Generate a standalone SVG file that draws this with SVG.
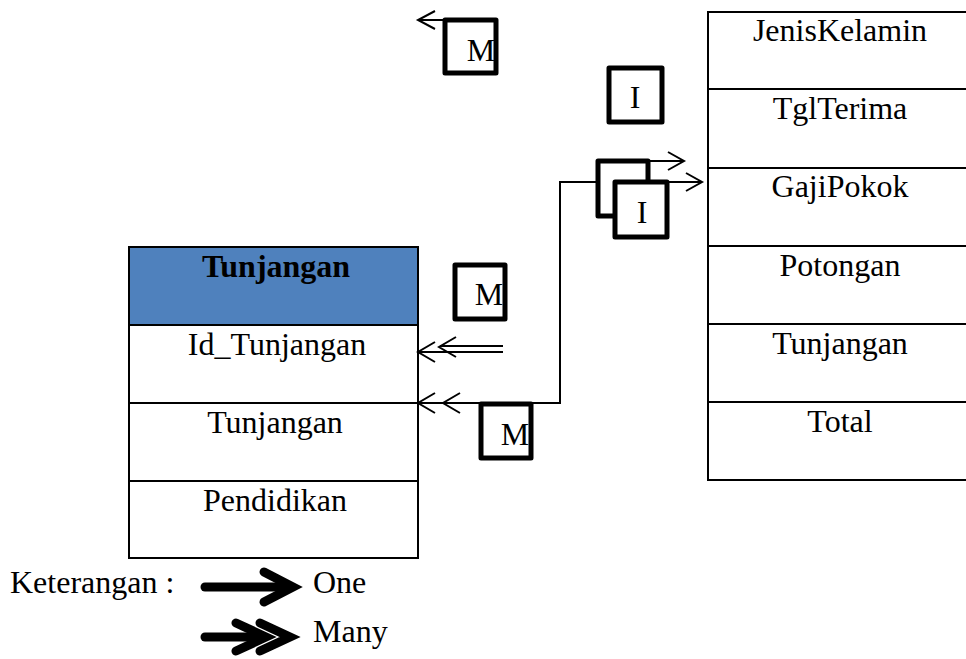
<svg xmlns="http://www.w3.org/2000/svg" width="966" height="659" viewBox="0 0 966 659">
  <style>
    .cell { fill: #ffffff; stroke: #000000; stroke-width: 2; }
    .head { fill: #4f81bd; stroke: #000000; stroke-width: 2; }
    .txt { font-family: "Liberation Serif", "Times New Roman", serif; font-size: 32px; fill: #000000; text-anchor: middle; }
    .bold { font-weight: bold; }
    .tag { fill: #ffffff; stroke: #000000; stroke-width: 5; stroke-linejoin: round; }
    .line { fill: none; stroke: #000000; stroke-width: 2; }
    .legend { fill: none; stroke: #000000; stroke-width: 9; stroke-linejoin: miter; stroke-linecap: round; }
  </style>

  <!-- Tunjangan table -->
  <g id="tabel-tunjangan">
    <rect class="head" x="129" y="247" width="289" height="78"/>
    <rect class="cell" x="129" y="325" width="289" height="78"/>
    <rect class="cell" x="129" y="403" width="289" height="78"/>
    <rect class="cell" x="129" y="481" width="289" height="77"/>
    <text class="txt bold" x="276" y="277">Tunjangan</text>
    <text class="txt" x="277" y="355">Id_Tunjangan</text>
    <text class="txt" x="275" y="433">Tunjangan</text>
    <text class="txt" x="275" y="511">Pendidikan</text>
  </g>

  <!-- Gaji table (right, runs past the edge) -->
  <g id="tabel-gaji">
    <rect class="cell" x="708" y="12" width="270" height="77"/>
    <rect class="cell" x="708" y="89" width="270" height="79"/>
    <rect class="cell" x="708" y="168" width="270" height="78"/>
    <rect class="cell" x="708" y="246" width="270" height="78"/>
    <rect class="cell" x="708" y="324" width="270" height="78"/>
    <rect class="cell" x="708" y="402" width="270" height="78"/>
    <text class="txt" x="840" y="41">JenisKelamin</text>
    <text class="txt" x="840" y="119">TglTerima</text>
    <text class="txt" x="840" y="197">GajiPokok</text>
    <text class="txt" x="840" y="276">Potongan</text>
    <text class="txt" x="840" y="354">Tunjangan</text>
    <text class="txt" x="840" y="432">Total</text>
  </g>

  <!-- Relationship lines -->
  <g id="connectors">
    <!-- top arrow -->
    <path class="line" d="M444,20 L418,20"/>
    <path class="line" d="M435,11 L418,20 L435,29"/>
    <!-- upper arrow toward the Gaji table -->
    <path class="line" d="M596,161 L684,161"/>
    <path class="line" d="M668,152 L684,161 L668,170"/>
    <!-- lower route: Tunjangan -> GajiPokok -->
    <path class="line" d="M418,403 L560,403 L560,182 L702,182"/>
    <path class="line" d="M686,173 L702,182 L686,191"/>
    <path class="line" d="M435,393 L418,403 L435,413"/>
    <path class="line" d="M460,393 L443,403 L460,413"/>
    <!-- double line into Id_Tunjangan -->
    <path class="line" d="M418,352 L503,352"/>
    <path class="line" d="M440,346 L503,346"/>
    <path class="line" d="M435,342 L418,352 L435,362"/>
    <path class="line" d="M456,337 L439,347 L456,357"/>
  </g>

  <!-- cardinality tags -->
  <g id="tag-m-atas">
    <rect class="tag" x="445" y="20" width="51" height="53"/>
    <text class="txt" x="481" y="61">M</text>
  </g>
  <g id="tag-i-atas">
    <rect class="tag" x="609" y="68" width="53" height="54"/>
    <text class="txt" x="635" y="108">I</text>
  </g>
  <g id="tag-i-belakang">
    <rect class="tag" x="598" y="161" width="50" height="55"/>
  </g>
  <g id="tag-i-depan">
    <rect class="tag" x="615" y="182" width="52" height="55"/>
    <text class="txt" x="642" y="223">I</text>
  </g>
  <g id="tag-m-tengah">
    <rect class="tag" x="455" y="265" width="50" height="54"/>
    <text class="txt" x="489" y="305">M</text>
  </g>
  <g id="tag-m-bawah">
    <rect class="tag" x="481" y="404" width="50" height="54"/>
    <text class="txt" x="515" y="445">M</text>
  </g>

  <!-- legend -->
  <g id="legend">
    <text class="txt" x="10" y="593" style="text-anchor:start">Keterangan :</text>
    <path class="legend" d="M205,587 L285,587"/>
    <path class="legend" d="M264,572 L293,587 L264,602"/>
    <text class="txt" x="313" y="593" style="text-anchor:start">One</text>
    <path class="legend" d="M205,637 L255,637"/>
    <path class="legend" d="M236,623 L266,637 L236,651"/>
    <path class="legend" d="M260,623 L290,637 L260,651"/>
    <text class="txt" x="313" y="642" style="text-anchor:start">Many</text>
  </g>
</svg>
